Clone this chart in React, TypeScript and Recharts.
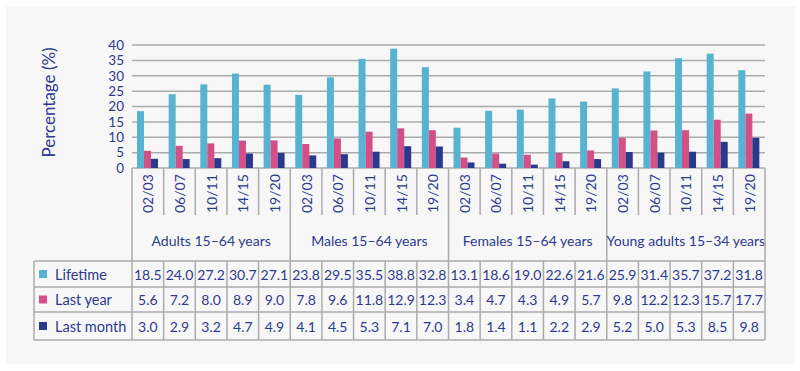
import { BarChart, Bar, XAxis, YAxis, CartesianGrid, Label } from 'recharts';

const years = ['02/03', '06/07', '10/11', '14/15', '19/20'];
const groups = ['Adults 15–64 years', 'Males 15–64 years', 'Females 15–64 years', 'Young adults 15–34 years'];

const lifetime = [18.5, 24.0, 27.2, 30.7, 27.1, 23.8, 29.5, 35.5, 38.8, 32.8, 13.1, 18.6, 19.0, 22.6, 21.6, 25.9, 31.4, 35.7, 37.2, 31.8];
const lastYear = [5.6, 7.2, 8.0, 8.9, 9.0, 7.8, 9.6, 11.8, 12.9, 12.3, 3.4, 4.7, 4.3, 4.9, 5.7, 9.8, 12.2, 12.3, 15.7, 17.7];
const lastMonth = [3.0, 2.9, 3.2, 4.7, 4.9, 4.1, 4.5, 5.3, 7.1, 7.0, 1.8, 1.4, 1.1, 2.2, 2.9, 5.2, 5.0, 5.3, 8.5, 9.8];

const yTicks = [0, 5, 10, 15, 20, 25, 30, 35, 40];

const series = [
  { key: 'lifetime', name: 'Lifetime', color: '#56b3d1', values: lifetime },
  { key: 'lastYear', name: 'Last year', color: '#d44f87', values: lastYear },
  { key: 'lastMonth', name: 'Last month', color: '#29398b', values: lastMonth },
];

const data = lifetime.map((_, i) => ({
  key: `${groups[Math.floor(i / 5)]} ${years[i % 5]}`,
  year: years[i % 5],
  lifetime: lifetime[i],
  lastYear: lastYear[i],
  lastMonth: lastMonth[i],
}));

const INK = '#2d3a8e';
const RULE = '#ababab';
const FONT = 'Lato, "Open Sans", sans-serif';

const W = 789;
const H = 358;
const MARGIN = { top: 39, right: 30, bottom: 0, left: 0 };
const Y_AXIS_W = 126;
const X_AXIS_H = 196;
const PLOT_W = W - MARGIN.left - MARGIN.right - Y_AXIS_W;
const BAND = PLOT_W / data.length;

// table row offsets below the plot bottom
const LABEL_ROW = 47;
const TABLE_TOP = 93;
const ROWS = [93, 119, 144, 172];
const LEGEND_W = 98;

function TableTick(props: any) {
  const { x, y, payload } = props;
  const i = payload.index as number;
  const left = x - BAND / 2;
  const right = x + BAND / 2;
  const n = data.length;
  const groupStart = i % 5 === 0;

  return (
    <g fontFamily={FONT} fill={INK}>
      {groupStart ? (
        <line x1={left} x2={left} y1={y} y2={y + ROWS[3]} stroke={RULE} strokeWidth={1.5} />
      ) : (
        <>
          <line x1={left} x2={left} y1={y} y2={y + LABEL_ROW} stroke={RULE} strokeWidth={1.5} />
          <line x1={left} x2={left} y1={y + TABLE_TOP} y2={y + ROWS[3]} stroke={RULE} strokeWidth={1.5} />
        </>
      )}
      {i === n - 1 && (
        <line x1={right} x2={right} y1={y} y2={y + ROWS[3]} stroke={RULE} strokeWidth={1.5} />
      )}
      {i === 0 && (
        <g>
          {ROWS.map((r) => (
            <line
              key={r}
              x1={left - LEGEND_W}
              x2={left + BAND * n}
              y1={y + r}
              y2={y + r}
              stroke={RULE}
              strokeWidth={1.5}
            />
          ))}
          <line
            x1={left - LEGEND_W}
            x2={left - LEGEND_W}
            y1={y + TABLE_TOP}
            y2={y + ROWS[3]}
            stroke={RULE}
            strokeWidth={1.5}
          />
          {series.map((s, r) => {
            const cy = y + (ROWS[r] + ROWS[r + 1]) / 2;
            return (
              <g key={s.key}>
                <rect x={left - LEGEND_W + 5} y={cy - 4} width={8} height={8} fill={s.color} />
                <text x={left - LEGEND_W + 21} y={cy} dominantBaseline="central" fontSize={14.5} fill={INK}>
                  {s.name}
                </text>
              </g>
            );
          })}
        </g>
      )}
      <text
        transform={`translate(${x}, ${y + LABEL_ROW - 2}) rotate(-90)`}
        textAnchor="start"
        dominantBaseline="central"
        fontSize={14}
        fill={INK}
      >
        {years[i % 5]}
      </text>
      {i % 5 === 2 && (
        <text x={x} y={y + 72} textAnchor="middle" dominantBaseline="central" fontSize={14} fill={INK}>
          {groups[Math.floor(i / 5)]}
        </text>
      )}
      {series.map((s, r) => (
        <text
          key={s.key}
          x={x}
          y={y + (ROWS[r] + ROWS[r + 1]) / 2}
          textAnchor="middle"
          dominantBaseline="central"
          fontSize={14}
          fill={INK}
        >
          {s.values[i].toFixed(1)}
        </text>
      ))}
    </g>
  );
}

export default function App() {
  return (
    <div
      style={{
        position: 'absolute',
        left: 6,
        top: 6,
        width: W,
        height: H,
        background: '#f7f7f7',
      }}
    >
      <BarChart width={W} height={H} data={data} margin={MARGIN} barGap={0} barSize={7}>
        <CartesianGrid vertical={false} stroke={RULE} strokeWidth={1.5} />
        <XAxis
          dataKey="key"
          interval={0}
          height={X_AXIS_H}
          axisLine={false}
          tickLine={false}
          tickSize={0}
          tickMargin={0}
          tick={(p: any) => <TableTick {...p} />}
        />
        <YAxis
          width={Y_AXIS_W}
          domain={[0, 40]}
          ticks={yTicks}
          interval={0}
          axisLine={false}
          tickLine={false}
          tick={{ fill: INK, fontSize: 13.5, fontFamily: FONT }}
        >
          <Label
            content={(p: any) => {
              const vb = p.viewBox;
              const cx = 42;
              const cy = vb.y + vb.height / 2 - 4;
              return (
                <text
                  transform={`translate(${cx}, ${cy}) rotate(-90)`}
                  textAnchor="middle"
                  dominantBaseline="central"
                  fontSize={17}
                  fontFamily={FONT}
                  fill={INK}
                >
                  Percentage (%)
                </text>
              );
            }}
          />
        </YAxis>
        {series.map((s) => (
          <Bar key={s.key} dataKey={s.key} name={s.name} fill={s.color} isAnimationActive={false} />
        ))}
      </BarChart>
    </div>
  );
}
